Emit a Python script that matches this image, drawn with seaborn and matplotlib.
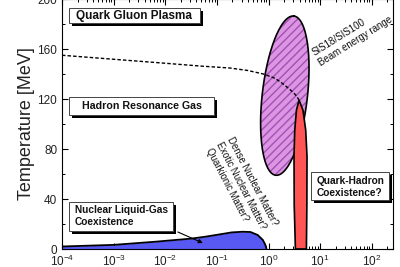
import numpy as np
import pandas as pd
import matplotlib
matplotlib.use("Agg")
import matplotlib.pyplot as plt
import seaborn as sns
from matplotlib.patches import Rectangle
from matplotlib.ticker import LogLocator, MultipleLocator, NullFormatter

# ---------------- data (x as log10 of the abscissa, T in MeV) ----------------
# chemical freeze-out / crossover (dashed)
cross_logx = [-4.0, -3.0, -2.0, -1.3, -0.75, -0.4, -0.1, 0.1, 0.22, 0.32, 0.41, 0.49, 0.54, 0.59]
cross_T = [155, 151.8, 148.6, 146.3, 144.8, 142.8, 140.0, 137.0, 134.0, 130.8, 127.7, 124.7, 122.5, 119.2]

# nuclear liquid-gas coexistence region (upper boundary)
nlg_logx = [-4.0, -3.0, -2.2, -1.5, -1.23, -0.9, -0.71, -0.5, -0.35, -0.21, -0.11, -0.07, -0.05, -0.04]
nlg_T = [2.0, 3.3, 5.8, 8.3, 9.8, 12.0, 13.3, 13.8, 13.6, 11.2, 7.2, 4.0, 1.9, 0.0]

# quark-hadron coexistence region (outline)
qh_logx = [0.52, 0.497, 0.493, 0.507, 0.54, 0.59, 0.667, 0.72, 0.745, 0.742, 0.733]
qh_T = [0.0, 35.0, 74.0, 95.0, 111.0, 119.2, 111.0, 95.0, 74.0, 35.0, 0.0]

# SIS18/SIS100 beam energy range (ellipse: end points of long axis, half width)
sis_bottom = (0.14, 59.0)
sis_top = (0.49, 186.4)
sis_side = (0.435, -2.0)

x_ticks_exp = [-4, -3, -2, -1, 0, 1, 2]
y_ticks = [0, 40, 80, 120, 160, 200]

# ---------------- style ----------------
sns.set_theme(style="ticks")
plt.rcParams["font.family"] = ["Liberation Sans", "DejaVu Sans"]
plt.rcParams.update({
    "mathtext.fontset": "custom",
    "mathtext.rm": "Liberation Sans",
    "mathtext.it": "Liberation Sans:italic",
    "mathtext.bf": "Liberation Sans:bold",
    "mathtext.default": "regular",
    "hatch.linewidth": 1.0,
})

fig = plt.figure(figsize=(4.0, 2.67), dpi=100)
ax = fig.add_axes([0.155, 0.0674, 0.8275, 0.9363])
ax.set_facecolor("white")

# nuclear liquid-gas region
bx = 10 ** np.array(nlg_logx)
ax.fill_between(bx, 0, nlg_T, color="#5858f2", linewidth=0, zorder=1)
ax.plot(bx, nlg_T, color="black", lw=1.3, zorder=1.05)

# SIS ellipse
t = np.linspace(0, 2 * np.pi, 200)
c = ((sis_bottom[0] + sis_top[0]) / 2, (sis_bottom[1] + sis_top[1]) / 2)
A = ((sis_top[0] - sis_bottom[0]) / 2, (sis_top[1] - sis_bottom[1]) / 2)
el_lx = c[0] + A[0] * np.cos(t) + sis_side[0] * np.sin(t)
el_T = c[1] + A[1] * np.cos(t) + sis_side[1] * np.sin(t)
ax.fill(10 ** el_lx, el_T, facecolor="#dc95e2", edgecolor="#a24fb3",
        linewidth=0, hatch="////", zorder=1.1)
ax.plot(10 ** el_lx, el_T, color="black", lw=1.2, zorder=1.15)

# quark-hadron coexistence region
ax.fill(10 ** np.array(qh_logx), qh_T, facecolor="#ff5555", edgecolor="black",
        linewidth=1.2, zorder=1.3)

# dashed crossover line
df = pd.DataFrame({"x": 10 ** np.array(cross_logx), "T": cross_T})
sns.lineplot(data=df, x="x", y="T", ax=ax, color="black", lw=1.0,
             linestyle=(0, (2.5, 1.5)), sort=False, zorder=2)

# axes
ax.set_xscale("log")
ax.set_xlim(1e-4, 10 ** 2.41)
ax.set_ylim(0, 200)
ax.set_yticks(y_ticks)
ax.yaxis.set_minor_locator(MultipleLocator(20))
ax.set_xticks([10.0 ** e for e in x_ticks_exp])
ax.xaxis.set_minor_locator(LogLocator(base=10, subs=np.arange(2, 10), numticks=30))
ax.xaxis.set_minor_formatter(NullFormatter())
ax.tick_params(which="both", direction="in", top=True, right=True,
               color="black", labelsize=8.5, labelcolor="#222222")
ax.tick_params(which="major", length=4, width=0.8, pad=3.5)
ax.tick_params(which="minor", length=2.3, width=0.7)
for s in ax.spines.values():
    s.set_color("black")
    s.set_linewidth(0.8)
ax.set_xlabel("")
ax.set_ylabel("Temperature [MeV]", fontsize=13, labelpad=1.5, color="#222222")

# text boxes with drop shadow (axes fraction)
sx, sy = 3 / 331, 3 / 250


def shadow_box(x0, x1, y0, y1):
    ax.add_patch(Rectangle((x0 + sx, y0 - sy), x1 - x0, y1 - y0, transform=ax.transAxes,
                           facecolor="black", edgecolor="black", lw=0, zorder=4))
    ax.add_patch(Rectangle((x0, y0), x1 - x0, y1 - y0, transform=ax.transAxes,
                           facecolor="white", edgecolor="#444444", lw=0.7, zorder=4.5))


shadow_box(0.0211, 0.4169, 0.904, 0.964)
ax.text(0.2175, 0.933, "Quark Gluon Plasma", transform=ax.transAxes, ha="center",
        va="center", fontsize=8.5, fontweight="bold", color="#111111", zorder=6)

shadow_box(0.0211, 0.4592, 0.536, 0.610)
ax.text(0.2417, 0.572, "Hadron Resonance Gas", transform=ax.transAxes, ha="center",
        va="center", fontsize=7.7, fontweight="bold", color="#111111", zorder=6)

shadow_box(0.0211, 0.3353, 0.072, 0.188)
ax.text(0.0393, 0.132, "Nuclear Liquid-Gas\nCoexistence", transform=ax.transAxes,
        ha="left", va="center", fontsize=7.3, fontweight="bold", color="#111111",
        linespacing=1.3, zorder=6)

shadow_box(0.7523, 0.9879, 0.196, 0.308)
ax.text(0.7704, 0.248, "Quark-Hadron\nCoexistence?", transform=ax.transAxes,
        ha="left", va="center", fontsize=7.3, fontweight="bold", color="#111111",
        linespacing=1.3, zorder=6)

# arrow into the liquid-gas region
ax.annotate("", xy=(10 ** -1.273, 4.8), xytext=(10 ** -1.756, 13.6),
            arrowprops=dict(arrowstyle="-|>", color="black", lw=0.8,
                            mutation_scale=6, shrinkA=0, shrinkB=0), zorder=3)

# rotated labels
ax.text(0.767, 0.76, "SIS18/SIS100\nBeam energy range", transform=ax.transAxes,
        ha="left", va="center", rotation=32, rotation_mode="anchor",
        fontsize=7, color="#111111", linespacing=1.25, zorder=6)
ax.text(0.4743, 0.424, "Dense Nuclear Matter?\nExotic Nuclear Matter?\nQuarkionic Matter?",
        transform=ax.transAxes, ha="left", va="center", rotation=-62.5,
        rotation_mode="anchor", fontsize=6.9, color="#111111", linespacing=1.25, zorder=6)

fig.savefig("out.png", dpi=100)
